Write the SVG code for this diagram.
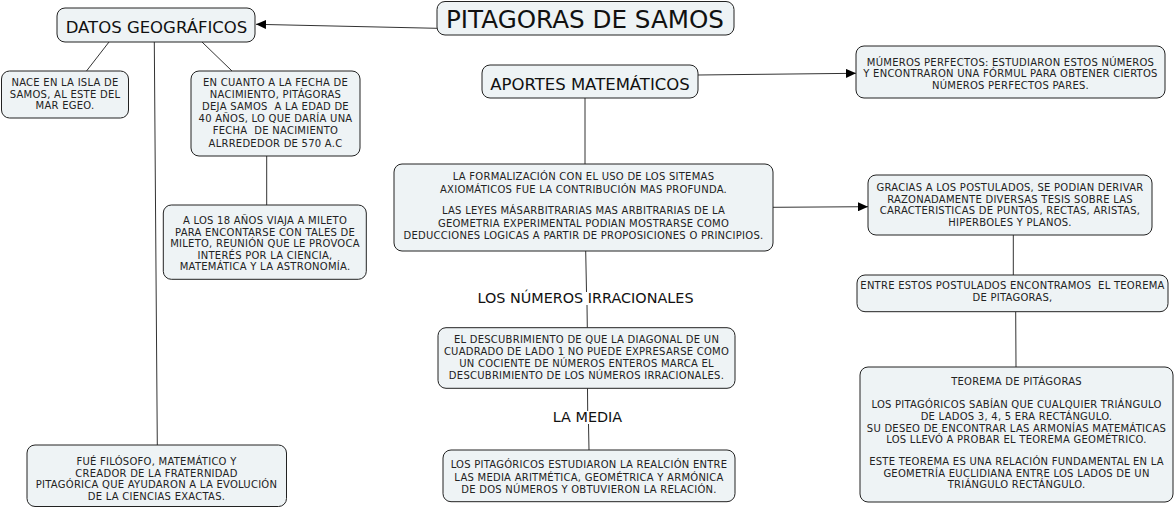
<svg xmlns="http://www.w3.org/2000/svg" width="1175" height="509" viewBox="0 0 1175 509">
<defs>
<style>
.box{fill:#eef3f5;stroke:#222;stroke-width:1}
.t{font-family:"DejaVu Sans",Verdana,sans-serif;font-size:10px;letter-spacing:0.25px;fill:#222;text-anchor:middle;white-space:pre}
.h{font-family:"DejaVu Sans",Verdana,sans-serif;font-size:16.5px;fill:#111;text-anchor:middle}
.l{font-family:"DejaVu Sans",Verdana,sans-serif;font-size:14.4px;fill:#111;text-anchor:middle}
.c line{stroke:#333;stroke-width:1;fill:none}
</style>
<marker id="arr" markerUnits="userSpaceOnUse" markerWidth="10" markerHeight="9" refX="10" refY="4.5" orient="auto">
<path d="M0,0 L10,4.5 L0,9 z" fill="#000"/>
</marker>
</defs>
<rect width="1175" height="509" fill="#fff"/>

<g class="c" id="connectors">
<line x1="437" y1="28.3" x2="256" y2="24.3" marker-end="url(#arr)"/>
<line x1="109" y1="42" x2="86.5" y2="71"/>
<line x1="154.3" y1="42" x2="157.3" y2="445"/>
<line x1="202" y1="42" x2="232" y2="71"/>
<line x1="266.7" y1="156" x2="266.7" y2="205"/>
<line x1="698" y1="75" x2="856" y2="73.3" marker-end="url(#arr)"/>
<line x1="585" y1="98" x2="585" y2="164"/>
<line x1="773" y1="207.3" x2="868" y2="206.7" marker-end="url(#arr)"/>
<line x1="585.7" y1="251" x2="586.5" y2="292"/>
<line x1="587" y1="305" x2="587.3" y2="327.7"/>
<line x1="587.5" y1="388.3" x2="587.7" y2="411"/>
<line x1="588.5" y1="424" x2="589" y2="450"/>
<line x1="1013.3" y1="235" x2="1013.3" y2="275"/>
<line x1="1015.7" y1="311.7" x2="1016" y2="367"/>
</g>

<g id="pitagoras">
<rect class="box" x="437" y="1.5" width="297" height="33.5" rx="8"/>
<text x="585" y="27.5" font-family="DejaVu Sans, Verdana, sans-serif" font-size="25" fill="#111" text-anchor="middle" textLength="278" lengthAdjust="spacingAndGlyphs">PITAGORAS DE SAMOS</text>
</g>

<g id="datos">
<rect class="box" x="57" y="8" width="198" height="34" rx="8"/>
<text class="h" x="156.5" y="33.3">DATOS GEOGRÁFICOS</text>
</g>

<g id="nace">
<rect class="box" x="1.5" y="71" width="127" height="47" rx="8"/>
<text class="t"><tspan x="65" y="86">NACE EN LA ISLA DE</tspan><tspan x="65" y="97.7">SAMOS, AL ESTE DEL</tspan><tspan x="65" y="109.4">MAR EGEO.</tspan></text>
</g>

<g id="encuanto">
<rect class="box" x="191" y="71" width="169" height="85" rx="8"/>
<text class="t"><tspan x="275.5" y="86">EN CUANTO A LA FECHA DE</tspan><tspan x="275.5" y="98.1">NACIMIENTO, PITÁGORAS</tspan><tspan x="275.5" y="110.2">DEJA SAMOS  A LA EDAD DE</tspan><tspan x="275.5" y="122.3">40 AÑOS, LO QUE DARÍA UNA</tspan><tspan x="275.5" y="134.4">FECHA  DE NACIMIENTO</tspan><tspan x="275.5" y="146.5">ALRREDEDOR DE 570 A.C</tspan></text>
</g>

<g id="alos18">
<rect class="box" x="163.3" y="205" width="203" height="74.3" rx="8"/>
<text class="t"><tspan x="265" y="224">A LOS 18 AÑOS VIAJA A MILETO</tspan><tspan x="265" y="235.5">PARA ENCONTARSE CON TALES DE</tspan><tspan x="265" y="247">MILETO, REUNIÓN QUE LE PROVOCA</tspan><tspan x="265" y="258.5">INTERÉS POR LA CIENCIA,</tspan><tspan x="265" y="270">MATEMÁTICA Y LA ASTRONOMÍA.</tspan></text>
</g>

<g id="fue">
<rect class="box" x="27" y="445" width="259.5" height="61.5" rx="8"/>
<text class="t"><tspan x="156.5" y="465">FUÉ FILÓSOFO, MATEMÁTICO Y</tspan><tspan x="156.5" y="476.5">CREADOR DE LA FRATERNIDAD</tspan><tspan x="156.5" y="488">PITAGÓRICA QUE AYUDARON A LA EVOLUCIÓN</tspan><tspan x="156.5" y="499.5">DE LA CIENCIAS EXACTAS.</tspan></text>
</g>

<g id="aportes">
<rect class="box" x="482" y="65" width="216" height="33" rx="8"/>
<text class="h" x="590" y="90">APORTES MATEMÁTICOS</text>
</g>

<g id="mumeros">
<rect class="box" x="856" y="46" width="309" height="52" rx="8"/>
<text class="t"><tspan x="1010.5" y="66">MÚMEROS PERFECTOS: ESTUDIARON ESTOS NÚMEROS</tspan><tspan x="1010.5" y="77.3">Y ENCONTRARON UNA FÓRMUL PARA OBTENER CIERTOS</tspan><tspan x="1010.5" y="88.6">NÚMEROS PERFECTOS PARES.</tspan></text>
</g>

<g id="formalizacion">
<rect class="box" x="394" y="164" width="379" height="87" rx="8"/>
<text class="t"><tspan x="583.5" y="180">LA FORMALIZACIÓN CON EL USO DE LOS SITEMAS</tspan><tspan x="583.5" y="192.5">AXIOMÁTICOS FUE LA CONTRIBUCIÓN MAS PROFUNDA.</tspan><tspan x="583.5" y="214">LAS LEYES MÁSARBITRARIAS MAS ARBITRARIAS DE LA</tspan><tspan x="583.5" y="226.5">GEOMETRIA EXPERIMENTAL PODIAN MOSTRARSE COMO</tspan><tspan x="583.5" y="239">DEDUCCIONES LOGICAS A PARTIR DE PROPOSICIONES O PRINCIPIOS.</tspan></text>
</g>

<g id="gracias">
<rect class="box" x="868" y="175" width="284" height="60" rx="8"/>
<text class="t"><tspan x="1010" y="190.7">GRACIAS A LOS POSTULADOS, SE PODIAN DERIVAR</tspan><tspan x="1010" y="202.5">RAZONADAMENTE DIVERSAS TESIS SOBRE LAS</tspan><tspan x="1010" y="214.2">CARACTERISTICAS DE PUNTOS, RECTAS, ARISTAS,</tspan><tspan x="1010" y="226">HIPERBOLES Y PLANOS.</tspan></text>
</g>

<g id="entre">
<rect class="box" x="857" y="275" width="311" height="36.7" rx="8"/>
<text class="t"><tspan x="1012.5" y="289.3">ENTRE ESTOS POSTULADOS ENCONTRAMOS  EL TEOREMA</tspan><tspan x="1012.5" y="300.8">DE PITAGORAS,</tspan></text>
</g>

<g id="teorema">
<rect class="box" x="860" y="367" width="313" height="135" rx="8"/>
<text class="t"><tspan x="1016.5" y="385">TEOREMA DE PITÁGORAS</tspan><tspan x="1016.5" y="408.3">LOS PITAGÓRICOS SABÍAN QUE CUALQUIER TRIÁNGULO</tspan><tspan x="1016.5" y="420">DE LADOS 3, 4, 5 ERA RECTÁNGULO.</tspan><tspan x="1016.5" y="431.7">SU DESEO DE ENCONTRAR LAS ARMONÍAS MATEMÁTICAS</tspan><tspan x="1016.5" y="443.3">LOS LLEVÓ A PROBAR EL TEOREMA GEOMÉTRICO.</tspan><tspan x="1016.5" y="465">ESTE TEOREMA ES UNA RELACIÓN FUNDAMENTAL EN LA</tspan><tspan x="1016.5" y="476.7">GEOMETRÍA EUCLIDIANA ENTRE LOS LADOS DE UN</tspan><tspan x="1016.5" y="488.3">TRIÁNGULO RECTÁNGULO.</tspan></text>
</g>

<g id="irracionales">
<text class="l" x="585.5" y="303">LOS NÚMEROS IRRACIONALES</text>
</g>

<g id="descubrimiento">
<rect class="box" x="438" y="327.7" width="297" height="60.6" rx="8"/>
<text class="t"><tspan x="586.5" y="343.3">EL DESCUBRIMIENTO DE QUE LA DIAGONAL DE UN</tspan><tspan x="586.5" y="355.2">CUADRADO DE LADO 1 NO PUEDE EXPRESARSE COMO</tspan><tspan x="586.5" y="367.1">UN COCIENTE DE NÚMEROS ENTEROS MARCA EL</tspan><tspan x="586.5" y="379">DESCUBRIMIENTO DE LOS NÚMEROS IRRACIONALES.</tspan></text>
</g>

<g id="media">
<text class="l" x="587.5" y="421.7">LA MEDIA</text>
</g>

<g id="pitagoricos">
<rect class="box" x="443" y="450" width="292" height="51.7" rx="8"/>
<text class="t"><tspan x="589" y="468.3">LOS PITAGÓRICOS ESTUDIARON LA REALCIÓN ENTRE</tspan><tspan x="589" y="480.5">LAS MEDIA ARITMÉTICA, GEOMÉTRICA Y ARMÓNICA</tspan><tspan x="589" y="492.7">DE DOS NÚMEROS Y OBTUVIERON LA RELACIÓN.</tspan></text>
</g>
</svg>
